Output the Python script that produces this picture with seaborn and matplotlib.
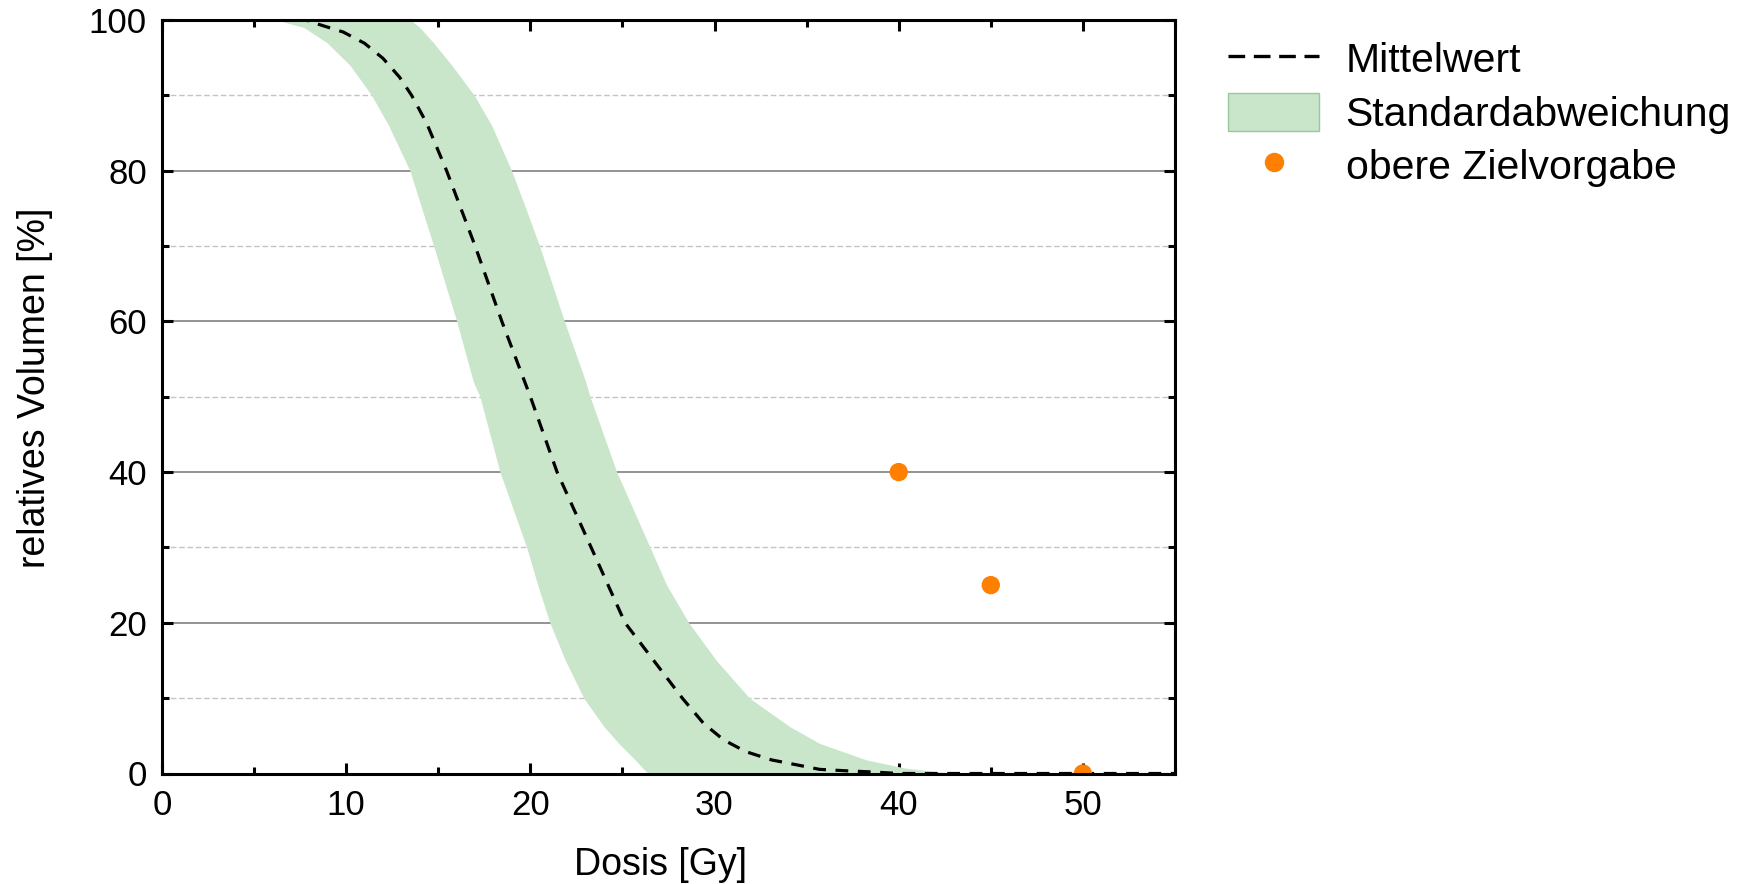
import numpy as np
import pandas as pd
import matplotlib
matplotlib.use("Agg")
import matplotlib.pyplot as plt
from matplotlib.lines import Line2D
from matplotlib.patches import Patch
from matplotlib.ticker import MultipleLocator
import seaborn as sns

# Mean dose-volume curve (dose in Gy, relative volume in %)
mean_dose = [0, 7.8, 8.4, 9.84, 11.0, 12.0, 12.9, 13.55, 14.37, 15.45, 17.0, 18.45, 20.0,
             21.45, 23.3, 25.14, 28.25, 29.4, 30.5, 31.7, 33.1, 34.5, 35.7, 37.2, 38.6, 40.0, 55.0]
mean_volume = [100, 100, 99.5, 98.4, 96.9, 94.9, 92.4, 90, 86.3, 80, 70, 60, 50,
               40, 30, 20, 10, 6.66, 4.45, 2.9, 1.8, 1.13, 0.55, 0.35, 0.2, 0, 0]

# Standard deviation band: dose range covered at each volume level
band_volume = [100, 99, 97, 94, 90, 86, 80, 75, 70, 60, 52, 50, 40,
               30, 25, 20, 15, 10, 6.2, 4.0, 1.8, 0.7, 0]
band_dose_low = [6.2, 7.7, 8.95, 10.2, 11.38, 12.3, 13.46, 14.1, 14.75, 16.0, 16.9, 17.26, 18.35,
                 19.8, 20.4, 21.06, 21.9, 22.9, 24.0, 24.8, 25.7, 26.1, 26.4]
band_dose_high = [13.5, 14.0, 14.73, 15.73, 16.95, 17.9, 18.98, 19.75, 20.5, 21.85, 23.0, 23.24, 24.69,
                  26.5, 27.4, 28.6, 30.1, 31.9, 34.1, 35.7, 38.26, 40.4, 43.0]

# Upper planning targets
target_dose = [40, 45, 50]
target_volume = [40, 25, 0]

label_mean = "Mittelwert"
label_band = "Standardabweichung"
label_target = "obere Zielvorgabe"

mean_df = pd.DataFrame({"dose": mean_dose, "volume": mean_volume})
targets = pd.DataFrame({"dose": target_dose, "volume": target_volume})

sns.set_style("white")
plt.rcParams["font.family"] = ["Liberation Sans", "DejaVu Sans"]
plt.rcParams["text.color"] = "black"
plt.rcParams["axes.labelcolor"] = "black"
plt.rcParams["xtick.color"] = "black"
plt.rcParams["ytick.color"] = "black"

fig = plt.figure(figsize=(17.5, 8.84), dpi=100)
ax = fig.add_axes([0.0926, 0.1250, 0.5788, 0.8524])

band_color = "#c9e6ca"
dot_color = "#ff8000"

# horizontal reference lines
for y in [20, 40, 60, 80]:
    ax.axhline(y, color="#8a8a8a", lw=1.3, zorder=0.5)
for y in [10, 30, 50, 70, 90]:
    ax.axhline(y, color="#c4c4c4", lw=1.0, ls=(0, (4, 2)), zorder=0.5)

ax.fill_betweenx(band_volume, band_dose_low, band_dose_high, color=band_color,
                 lw=0, zorder=1)
sns.lineplot(data=mean_df, x="dose", y="volume", ax=ax, color="black", lw=2.3,
             linestyle=(0, (4, 3)), sort=False, zorder=2, legend=False)
sns.scatterplot(data=targets, x="dose", y="volume", ax=ax, color=dot_color,
                s=175, edgecolor="none", zorder=3, legend=False)

ax.set_xlim(0, 55)
ax.set_ylim(0, 100)
ax.xaxis.set_major_locator(MultipleLocator(10))
ax.xaxis.set_minor_locator(MultipleLocator(5))
ax.yaxis.set_major_locator(MultipleLocator(20))
ax.yaxis.set_minor_locator(MultipleLocator(10))
ax.tick_params(which="both", direction="in", bottom=True, left=True, top=True, right=True,
               width=2.2, color="black", labelsize=25, pad=11)
ax.tick_params(which="major", length=8)
ax.tick_params(which="minor", length=5)
for side in ax.spines.values():
    side.set_linewidth(2.2)
    side.set_color("black")
    side.set_zorder(4)

ax.set_xlabel("Dosis [Gy]", fontsize=27, labelpad=18, x=0.4925)
ax.set_ylabel("relatives Volumen [%]", fontsize=27, labelpad=26, y=0.512)

handles = [
    Line2D([], [], color="black", lw=2.4, linestyle=(0, (5, 2.6))),
    Patch(facecolor=band_color, edgecolor="#9cc79e", lw=1.0),
    Line2D([], [], color=dot_color, marker="o", ls="none", markersize=13),
]
leg = fig.legend(handles, [label_mean, label_band, label_target],
                 loc="upper left", bbox_to_anchor=(0.6926, 0.974), frameon=False,
                 fontsize=29.5, handlelength=2.2, handleheight=1.05,
                 handletextpad=0.66, labelspacing=0.3, borderaxespad=0)

fig.savefig("out.png", dpi=100)
